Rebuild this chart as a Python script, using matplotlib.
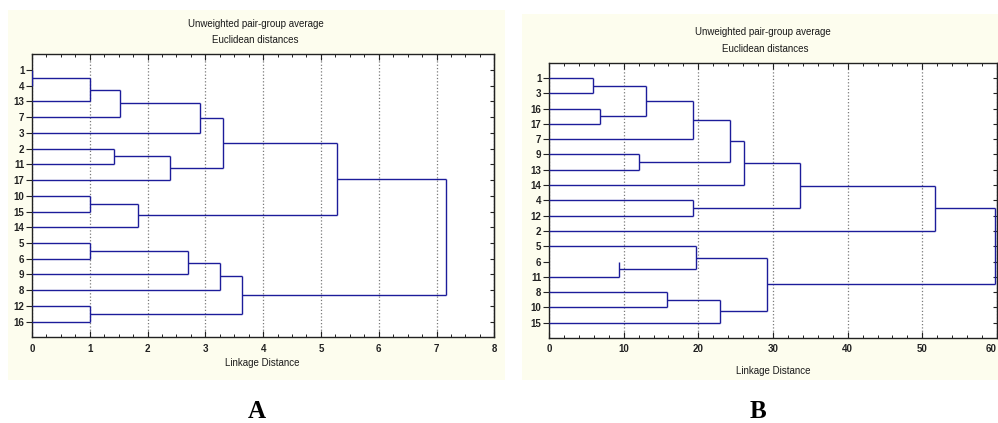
import matplotlib
matplotlib.use("Agg")
import matplotlib.pyplot as plt
from matplotlib.patches import Rectangle
from matplotlib.ticker import MultipleLocator

# ---------------- data ----------------
# Panel A: leaf order (top to bottom) and merges (left child, right child, linkage distance)
A_labels = ['1', '4', '13', '7', '3', '2', '11', '17', '10', '15', '14', '5', '6', '9', '8', '12', '16']
A_left   = ['1',  'c0', 'c1', 'c2', '2',  'c4', 'c3', '10', 'c7', 'c6', '5',  'c10', 'c11', '12', 'c12', 'c9']
A_right  = ['4',  '13', '7',  '3',  '11', '17', 'c5', '15', '14', 'c8', '6',  '9',   '8',   '16', 'c13', 'c14']
A_height = [0.0, 1.00, 1.52, 2.91, 1.42, 2.38, 3.30, 1.00, 1.83, 5.28, 1.00, 2.70, 3.26, 1.00, 3.64, 7.17]
A_xticks = [0, 1, 2, 3, 4, 5, 6, 7, 8]

# Panel B
B_labels = ['1', '3', '16', '17', '7', '9', '13', '14', '4', '12', '2', '5', '6', '11', '8', '10', '15']
B_left   = ['1',  '16', 'c0', 'c2', '9',  'c3', 'c5', '4',  'c6', 'c8', '6',  '5',  '8',  'c12', 'c11', 'c9']
B_right  = ['3',  '17', 'c1', '7',  '13', 'c4', '14', '12', 'c7', '2',  '11', 'c10', '10', '15', 'c13', 'c14']
B_height = [5.93, 6.83, 13.04, 19.33, 12.01, 24.19, 26.16, 19.33, 33.57, 51.74, 9.37, 19.65, 15.85, 22.86, 29.2, 59.67]
B_xticks = [0, 10, 20, 30, 40, 50, 60]
B_hidden_stubs = ['6']   # leaf whose connecting stub is not drawn in the original

title1 = "Unweighted pair-group average"
title2 = "Euclidean distances"
xlabel = "Linkage Distance"

# ---------------- style ----------------
W, H = 998, 423
LINE = '#1c1c9a'
CREAM = '#fdfdee'
FONT = 'Liberation Sans'

fig = plt.figure(figsize=(W / 100, H / 100), dpi=100)
fig.patch.set_facecolor('white')


def fx(px):
    return px / W


def fy(py):
    return 1 - py / H


def panel(x0, y0, x1, y1):
    fig.add_artist(Rectangle((fx(x0), fy(y1)), fx(x1) - fx(x0), fy(y0) - fy(y1),
                             transform=fig.transFigure, facecolor=CREAM,
                             edgecolor='none', zorder=-10))


def axes_px(x0, y0, x1, y1):
    return fig.add_axes([fx(x0), fy(y1), fx(x1) - fx(x0), fy(y0) - fy(y1)])


def draw_dendro(ax, labels, left, right, height, hidden=()):
    ypos = {lab: i + 1 for i, lab in enumerate(labels)}
    hpos = {lab: 0.0 for lab in labels}
    for k, (a, b, h) in enumerate(zip(left, right, height)):
        for c in (a, b):
            if c in hidden:
                continue
            ax.plot([hpos[c], h], [ypos[c], ypos[c]], color=LINE, lw=1.0,
                    solid_capstyle='butt', zorder=3)
        ax.plot([h, h], [ypos[a], ypos[b]], color=LINE, lw=1.0,
                solid_capstyle='butt', zorder=3)
        node = 'c%d' % k
        ypos[node] = (ypos[a] + ypos[b]) / 2
        hpos[node] = h


def style_axes(ax, labels, xticks, minor):
    n = len(labels)
    ax.set_xlim(xticks[0], xticks[-1])
    ax.set_ylim(n + 1, 0)
    ax.set_xticks(xticks)
    ax.set_xticklabels([str(t) for t in xticks], fontsize=7, fontweight='bold', family=FONT)
    ax.xaxis.set_minor_locator(MultipleLocator(minor))
    ax.set_yticks(range(1, n + 1))
    ax.set_yticklabels(labels, fontsize=7, fontweight='bold', family=FONT)
    ax.tick_params(axis='x', which='major', direction='in', top=True, bottom=True,
                   length=4, width=0.8, pad=4.5, colors='#222222')
    ax.tick_params(axis='x', which='minor', direction='in', top=True, bottom=True,
                   length=2, width=0.7, colors='#222222')
    ax.tick_params(axis='y', which='major', direction='out', left=True, right=False,
                   length=4, width=0.8, pad=1.5, colors='#222222')
    sec = ax.secondary_yaxis('right')
    sec.set_yticks(range(1, n + 1))
    sec.tick_params(direction='in', length=3, width=0.8, labelright=False, colors='#222222')
    sec.spines['right'].set_color('#222222')
    ax.grid(axis='x', which='major', linestyle=':', color='#7a7a7a', lw=0.9)
    for s in ax.spines.values():
        s.set_color('#222222')
        s.set_linewidth(1.0)
    ax.set_facecolor('white')


# ---------------- panel A ----------------
panel(8, 10, 505, 380)
axA = axes_px(32, 54.3, 494.3, 337.3)
draw_dendro(axA, A_labels, A_left, A_right, A_height)
style_axes(axA, A_labels, A_xticks, 0.25)
fig.text(fx(256), fy(24), title1, ha='center', va='center', fontsize=7, family=FONT, color='#1a1a1a')
fig.text(fx(255), fy(40), title2, ha='center', va='center', fontsize=7, family=FONT, color='#1a1a1a')
fig.text(fx(262), fy(363), xlabel, ha='center', va='center', fontsize=7, family=FONT, color='#1a1a1a')
fig.text(fx(257), fy(411), 'A', ha='center', va='center', fontsize=18, fontweight='bold',
         family='Liberation Serif')

# ---------------- panel B ----------------
panel(522, 14, 1000, 380)
axB = axes_px(549, 62.7, 997, 338)
draw_dendro(axB, B_labels, B_left, B_right, B_height, hidden=B_hidden_stubs)
style_axes(axB, B_labels, B_xticks, 2)
# keep the last tick label (at the figure edge) inside the picture
axB.get_xticklabels()[-1].set_horizontalalignment('right')
fig.text(fx(763), fy(32), title1, ha='center', va='center', fontsize=7, family=FONT, color='#1a1a1a')
fig.text(fx(765), fy(49), title2, ha='center', va='center', fontsize=7, family=FONT, color='#1a1a1a')
fig.text(fx(773), fy(371), xlabel, ha='center', va='center', fontsize=7, family=FONT, color='#1a1a1a')
fig.text(fx(758), fy(411), 'B', ha='center', va='center', fontsize=18, fontweight='bold',
         family='Liberation Serif')

fig.savefig('out.png', dpi=100, facecolor='white')
